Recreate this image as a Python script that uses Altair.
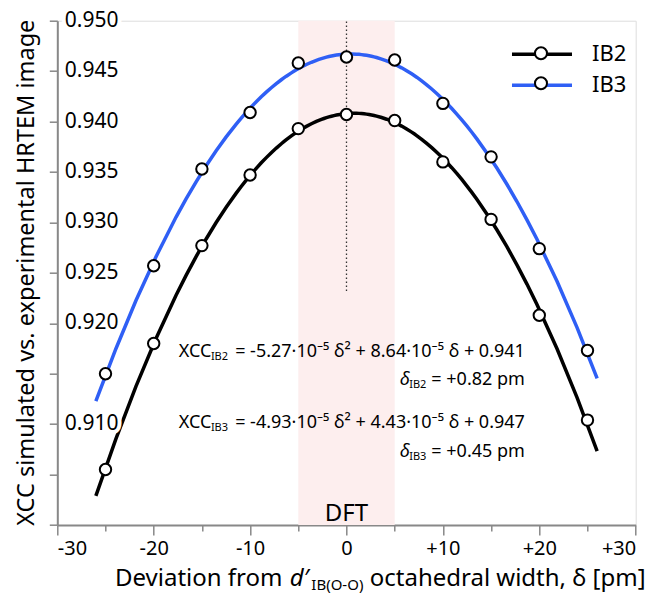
import altair as alt
import pandas as pd

# ---------------- data ----------------
delta = [-25, -20, -15, -10, -5, 0, 5, 10, 15, 20, 25]
xcc_ib2 = [0.9055, 0.9180, 0.9277, 0.9347, 0.9393, 0.9407, 0.9401, 0.9360, 0.9303, 0.9208, 0.9104]
xcc_ib3 = [0.9150, 0.9257, 0.9353, 0.9409, 0.9458, 0.9464, 0.9461, 0.9418, 0.9365, 0.9274, 0.9173]
series_names = ["IB2", "IB3"]
series_colors = ["#000000", "#2f5ff5"]
fit_extent = [-26, 26]
dft_band = [-5, 5]
dft_line_y = [0.9232, 0.950]
x_domain = [-30, 30]
y_domain = [0.900, 0.950]
x_ticks_major = [-30, -20, -10, 0, 10, 20, 30]
x_ticks_minor = [-25, -15, -5, 5, 15, 25]
y_ticks = [0.900, 0.905, 0.910, 0.915, 0.920, 0.925, 0.930, 0.935, 0.940, 0.945, 0.950]
y_tick_labels = [0.950, 0.945, 0.940, 0.935, 0.930, 0.925, 0.920, 0.910]
eq_lead = ["XCC", "δ", "XCC", "δ"]
eq_sub = ["IB2", "IB2", "IB3", "IB3"]
eq_rest = [" = -5.27·10⁻⁵ δ² + 8.64·10⁻⁵ δ + 0.941", " = +0.82 pm",
           " = -4.93·10⁻⁵ δ² + 4.43·10⁻⁵ δ + 0.947", " = +0.45 pm"]
eq_y = [0.91715, 0.91438, 0.91011, 0.90724]
eq_x = 18.5
dft_text_pos = [0, 0.9011]

FONT = "Noto Sans"
W_PLOT, H_PLOT = 578.4, 504.3

# approximate advance widths (em) for placing sub-/superscript pieces
CW = {'X': .557, 'C': .632, 'I': .293, 'B': .648, ' ': .26, '=': .572, '-': .322, '+': .572,
      '.': .268, '·': .268, 'δ': .561, '²': .38, '⁻': .38, '⁵': .38, 'p': .613, 'm': .952,
      'D': .735, 'e': .561, 'v': .508, 'i': .258, 'a': .561, 't': .352, 'o': .602, 'n': .613,
      'f': .344, 'r': .411, 'c': .48, 'h': .613, 'd': .613, 'l': .258, 'w': .797, ',': .258,
      '[': .297, ']': .297, '(': .303, ')': .303, 'O': .779, '′': .25}


def tw(s, size):
    return sum(CW.get(c, .572) for c in s) * size


xs = alt.Scale(domain=x_domain, nice=False, zero=False)
ys = alt.Scale(domain=y_domain, nice=False, zero=False)

pts = pd.DataFrame({
    "x": delta * 2,
    "y": xcc_ib2 + xcc_ib3,
    "series": [series_names[0]] * len(delta) + [series_names[1]] * len(delta),
})
pts["series2"] = pts["series"]

# DFT band with minor x ticks and the y axis (ticks only)
band = alt.Chart(pd.DataFrame({"x0": [dft_band[0]], "x1": [dft_band[1]],
                               "y0": [y_domain[0]], "y1": [y_domain[1]]})).mark_rect(
    color="#fdeeee").encode(
    x=alt.X("x0:Q", scale=xs, axis=alt.Axis(values=x_ticks_minor, tickSize=6, labels=False,
                                             domain=False, grid=False, title=None, orient="bottom",
                                             tickWidth=1.5)),
    x2="x1:Q",
    y=alt.Y("y0:Q", scale=ys, axis=alt.Axis(values=y_ticks, tickSize=8, labels=False, grid=False,
                                             domainWidth=2, tickWidth=1.5,
                                             title="XCC simulated vs. experimental HRTEM image",
                                             titleFontSize=23.5, titleFont=FONT, titleFontWeight="normal",
                                             titleX=-31, titleY=251.5, titleAngle=-90,
                                             titleBaseline="middle", titleAlign="center")),
    y2="y1:Q",
)

dline = alt.Chart(pd.DataFrame({"x": [0], "y0": [dft_line_y[0]], "y1": [dft_line_y[1]]})).mark_rule(
    color="#333333", strokeWidth=1.3, strokeDash=[1.5, 2.5]).encode(
    x=alt.X("x:Q", scale=xs, axis=None), y=alt.Y("y0:Q", scale=ys, axis=None), y2="y1:Q")

dft_txt = alt.Chart(pd.DataFrame({"x": [dft_text_pos[0]], "y": [dft_text_pos[1]], "t": ["DFT"]})).mark_text(
    fontSize=24, font=FONT, color="black", baseline="middle").encode(
    x=alt.X("x:Q", scale=xs, axis=None), y=alt.Y("y:Q", scale=ys, axis=None), text="t:N")

fit = alt.Chart(pts).transform_regression(
    "x", "y", groupby=["series"], method="poly", order=2, extent=fit_extent
).mark_line(strokeWidth=3.5).encode(
    x=alt.X("x:Q", scale=xs, axis=alt.Axis(values=x_ticks_major, tickSize=10, tickWidth=1.5,
                                            domainWidth=2, grid=False, title=None,
                                            labelFontSize=20, labelFont=FONT, labelPadding=4,
                                            labelExpr="datum.value > 0 ? '+' + datum.value : '' + datum.value",
                                            orient="bottom")),
    y=alt.Y("y:Q", scale=ys, axis=None),
    color=alt.Color("series:N", scale=alt.Scale(range=series_colors),
                    legend=alt.Legend(orient="none", legendX=467.7, legendY=16.6, title=None,
                                      symbolType="M-2,0H2", symbolSize=900, symbolStrokeWidth=3.5,
                                      labelFontSize=22, labelFont=FONT, labelOffset=33, rowPadding=3,
                                      padding=0, labelColor="black")),
)

points = alt.Chart(pts).mark_point(filled=True, shape="circle", size=130, stroke="black",
                                   strokeWidth=2, opacity=1).encode(
    x=alt.X("x:Q", scale=xs, axis=None),
    y=alt.Y("y:Q", scale=ys, axis=None),
    fill=alt.Fill("series2:N", scale=alt.Scale(range=["white", "white"]),
                  legend=alt.Legend(orient="none", legendX=467.7, legendY=16.6, title=None,
                                    symbolType="M0.4,0A0.4,0.4,0,1,1,-0.4,0A0.4,0.4,0,1,1,0.4,0Z",
                                    symbolSize=900, symbolStrokeWidth=2, symbolStrokeColor="black",
                                    symbolFillColor="white",
                                    labelFontSize=22, labelFont=FONT, labelOffset=33, rowPadding=3,
                                    padding=0, labelExpr="''")),
)

ylab_df = pd.DataFrame({"x": [x_domain[0]] * len(y_tick_labels), "y": y_tick_labels})
ylab_halo = alt.Chart(ylab_df).mark_text(align="left", baseline="middle", dx=7.5, fontSize=21, font=FONT,
                                         stroke="white", strokeWidth=8, color="white").encode(
    x=alt.X("x:Q", scale=xs, axis=None), y=alt.Y("y:Q", scale=ys, axis=None),
    text=alt.Text("y:Q", format=".3f"))
ylab = alt.Chart(ylab_df).mark_text(align="left", baseline="middle", dx=7.5, fontSize=21, font=FONT,
                                    color="black").encode(
    x=alt.X("x:Q", scale=xs, axis=None), y=alt.Y("y:Q", scale=ys, axis=None),
    text=alt.Text("y:Q", format=".3f"))


def piece(text, x, y, size, align, dx=0.0, dy=0.0, italic=False):
    df = pd.DataFrame({"x": [x], "y": [y], "t": [text]})
    return alt.Chart(df).mark_text(align=align, baseline="middle", dx=dx, dy=dy, fontSize=size,
                                   font=FONT, fontStyle="italic" if italic else "normal",
                                   color="black").encode(
        x=alt.X("x:Q", scale=xs, axis=None), y=alt.Y("y:Q", scale=ys, axis=None), text="t:N")


eq_layers = []
for lead, sub, rest, yy in zip(eq_lead, eq_sub, eq_rest, eq_y):
    wr = tw(rest, 18)
    ws = tw(sub, 11)
    eq_layers.append(piece(rest, eq_x, yy, 18, "right"))
    eq_layers.append(piece(sub, eq_x, yy, 11, "right", dx=-wr, dy=5))
    eq_layers.append(piece(lead, eq_x, yy, 18, "right", dx=-(wr + ws), italic=(lead == "δ")))

# x axis title with italic d′ and subscript
t1, t2, t3, t4 = "Deviation from ", "d′", "IB(O-O)", " octahedral width, δ [pm]"
TS, SS = 24, 15
x0 = 57.7
ty = 558.0


def tpiece(text, px, size, dy=0.0, italic=False):
    return alt.Chart(pd.DataFrame({"t": [text]})).mark_text(
        align="left", baseline="middle", fontSize=size, font=FONT, dy=dy,
        fontStyle="italic" if italic else "normal", color="black").encode(
        x=alt.value(px), y=alt.value(ty), text="t:N")


p2 = x0 + tw(t1, TS)
p3 = p2 + tw(t2, TS) + 1
p4 = p3 + tw(t3, SS) + 7
title_layers = [
    tpiece(t1, x0, TS),
    tpiece(t2, p2, TS, italic=True),
    tpiece(t3, p3, SS, dy=6),
    tpiece(t4, p4, TS),
]

chart = alt.layer(band, dline, dft_txt, fit, points, ylab_halo, ylab, *eq_layers, *title_layers).resolve_axis(
    x="independent", y="independent"
).properties(
    width=W_PLOT, height=H_PLOT,
    autosize=alt.AutoSizeParams(type="none"),
    padding={"left": 49.3, "top": 12.7, "right": 19, "bottom": 68},
).configure_view(stroke="black", strokeWidth=1.5).configure_axis(
    domainColor="black", tickColor="black", labelColor="black", titleColor="black"
).configure(font=FONT)

chart.save("out.html", embed_options={"renderer": "svg", "actions": False})
